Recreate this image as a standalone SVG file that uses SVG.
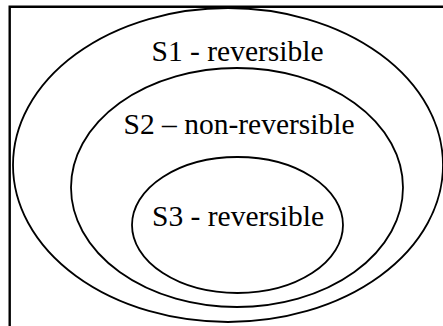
<svg xmlns="http://www.w3.org/2000/svg" width="443" height="326" viewBox="0 0 443 326">
<style>
.e{fill:none;stroke:#000;stroke-width:1.8}
.t{font-family:"Liberation Serif","Times New Roman",serif;font-size:29.5px;fill:#000;text-anchor:middle}
</style>
<rect width="443" height="326" fill="#fff"/>
<path d="M9.7,330 V6.8 H446" fill="none" stroke="#000" stroke-width="2.4"/>
<g id="s1">
<ellipse class="e" cx="228" cy="165" rx="215" ry="157"/>
<text class="t" x="237.5" y="61">S1 - reversible</text>
</g>
<g id="s2">
<ellipse class="e" cx="237" cy="187.5" rx="166" ry="119.5"/>
<text class="t" x="239" y="133.5">S2 – non-reversible</text>
</g>
<g id="s3">
<ellipse class="e" cx="237.5" cy="225" rx="105.5" ry="68"/>
<text class="t" x="238" y="226">S3 - reversible</text>
</g>
<g id="connectors"/>
</svg>
